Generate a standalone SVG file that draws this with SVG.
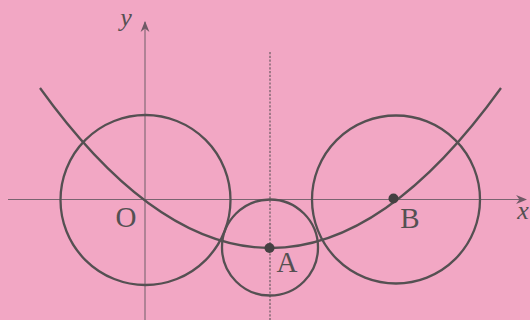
<svg xmlns="http://www.w3.org/2000/svg" width="530" height="320" viewBox="0 0 530 320">
<style>
.ax{stroke:#7a6470;stroke-width:1.1;fill:none}
.cv{stroke:#555052;stroke-width:2.3;fill:none}
.lb{font-family:"Liberation Serif",serif;font-size:29px;fill:#555052}
.it{font-style:italic;font-size:26px}
.dot{fill:#454042}
</style>
<defs>
<marker id="ah" viewBox="0 0 10 10" refX="9" refY="5" markerWidth="11" markerHeight="11" markerUnits="userSpaceOnUse" orient="auto">
<path d="M0,1 L10,5 L0,9 L3,5 Z" fill="#6f5a66"/>
</marker>
</defs>
<rect width="530" height="320" fill="#f2a7c4"/>
<g id="connectors">
<line id="x-axis" class="ax" x1="8" y1="199.5" x2="526" y2="199.5" marker-end="url(#ah)"/>
<line id="y-axis" class="ax" x1="145" y1="320" x2="145" y2="22" marker-end="url(#ah)"/>
<line id="axis-dashed" x1="270" y1="52" x2="270" y2="320" stroke="#6a5a62" stroke-width="1.2" stroke-dasharray="2.2,1.6"/>
<path id="parabola" class="cv" d="M40,88 Q270.5,408 501,88"/>
</g>
<g id="circleO"><circle class="cv" cx="145.5" cy="200" r="85"/><text class="lb" x="126" y="227" text-anchor="middle">O</text></g>
<g id="circleA"><circle class="cv" cx="270" cy="247.5" r="48"/><circle class="dot" cx="269.5" cy="248" r="5"/><text class="lb" x="287" y="272" text-anchor="middle">A</text></g>
<g id="circleB"><circle class="cv" cx="396" cy="199.5" r="84"/><circle class="dot" cx="393.5" cy="198.5" r="5"/><text class="lb" x="410" y="228" text-anchor="middle">B</text></g>
<g id="labels"><text class="lb it" x="126" y="26" text-anchor="middle">y</text><text class="lb it" x="523" y="219" text-anchor="middle">x</text></g>
</svg>
